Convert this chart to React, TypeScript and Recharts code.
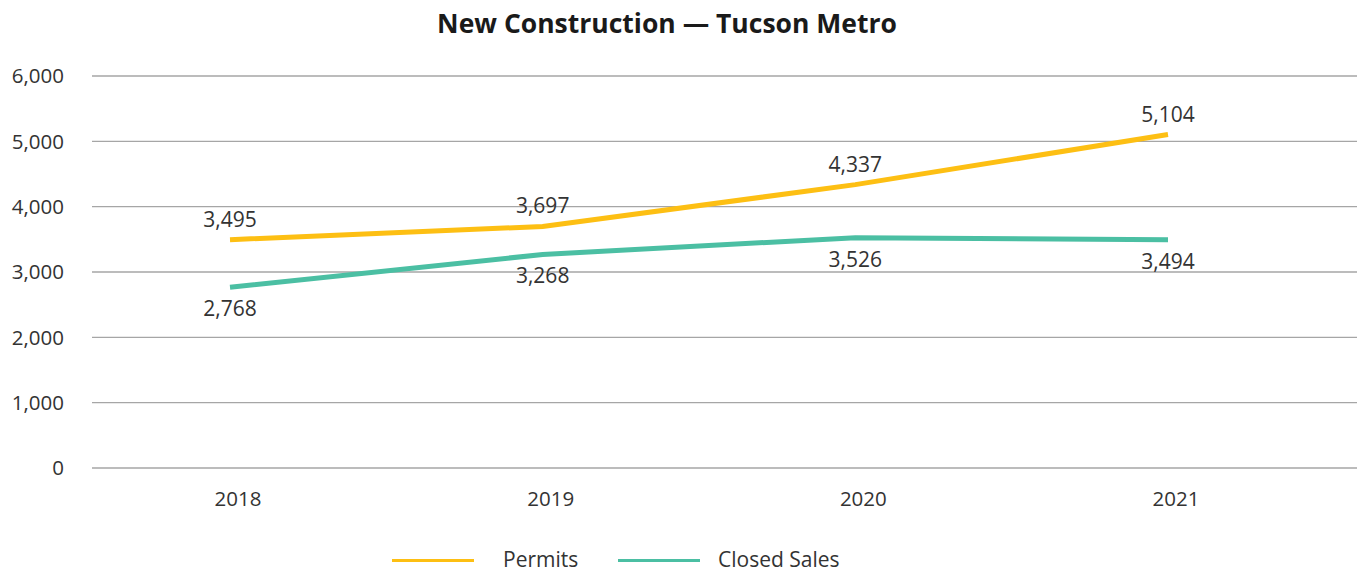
import { LineChart, Line, XAxis, YAxis, CartesianGrid, Legend, LabelList } from "recharts"

const years = ["2018", "2019", "2020", "2021"]
const permits = [3495, 3697, 4337, 5104]
const closedSales = [2768, 3268, 3526, 3494]
const yTicks = [0, 1000, 2000, 3000, 4000, 5000, 6000]

const data = years.map((year, i) => ({
  year,
  permits: permits[i],
  closedSales: closedSales[i],
}))

const FONT = "'Open Sans', 'Noto Sans', sans-serif"
const YELLOW = "#FDBF13"
const TEAL = "#4BBFA3"

const fmt = (v: number) => v.toLocaleString("en-US")

function ChartLegend() {
  return (
    <div style={{ position: "relative", width: 1363, height: 20, fontFamily: FONT, fontSize: 21, lineHeight: "22px", color: "#333" }}>
      <div style={{ position: "absolute", left: 392, top: 13, width: 82, height: 3, background: YELLOW }} />
      <span style={{ position: "absolute", left: 503, top: 2 }}>Permits</span>
      <div style={{ position: "absolute", left: 618, top: 13, width: 82, height: 3, background: TEAL }} />
      <span style={{ position: "absolute", left: 718, top: 2 }}>Closed Sales</span>
    </div>
  )
}

export default function App() {
  return (
    <div style={{ position: "absolute", left: 0, top: 0, width: 1363, height: 571, background: "#fff" }}>
      <div
        style={{
          position: "absolute",
          left: 0,
          top: 5,
          width: 1334,
          textAlign: "center",
          fontFamily: FONT,
          fontWeight: 700,
          fontSize: 26.5,
          color: "#1a1a1a",
        }}
      >
        New Construction — Tucson Metro
      </div>
      <LineChart width={1363} height={571} data={data} margin={{ top: 76, right: 6, bottom: 0, left: 0 }}>
        <CartesianGrid vertical={false} stroke="#a6a6a6" strokeWidth={1.3} />
        <XAxis
          dataKey="year"
          axisLine={false}
          tickLine={false}
          tickSize={0}
          tickMargin={23}
          height={83}
          padding={{ left: 138, right: 189 }}
          tick={{ fontFamily: FONT, fontSize: 20.5, fill: "#333", dx: 8 }}
        />
        <YAxis
          domain={[0, 6000]}
          ticks={yTicks}
          axisLine={false}
          tickLine={false}
          tickSize={0}
          tickMargin={28}
          width={92}
          tickFormatter={fmt}
          tick={{ fontFamily: FONT, fontSize: 20.5, fill: "#333" }}
        />
        <Legend verticalAlign="bottom" content={() => <ChartLegend />} wrapperStyle={{ left: 0, top: 546, width: 1363 }} />
        <Line
          dataKey="permits"
          name="Permits"
          stroke={YELLOW}
          strokeWidth={5}
          dot={false}
          activeDot={false}
          isAnimationActive={false}
        >
          <LabelList dataKey="permits" position="top" offset={13} formatter={(v: any) => fmt(v)} style={{ fontFamily: FONT, fontSize: 21, fill: "#333" }} />
        </Line>
        <Line
          dataKey="closedSales"
          name="Closed Sales"
          stroke={TEAL}
          strokeWidth={5}
          dot={false}
          activeDot={false}
          isAnimationActive={false}
        >
          <LabelList dataKey="closedSales" position="bottom" offset={14} formatter={(v: any) => fmt(v)} style={{ fontFamily: FONT, fontSize: 21, fill: "#333" }} />
        </Line>
      </LineChart>
    </div>
  )
}
